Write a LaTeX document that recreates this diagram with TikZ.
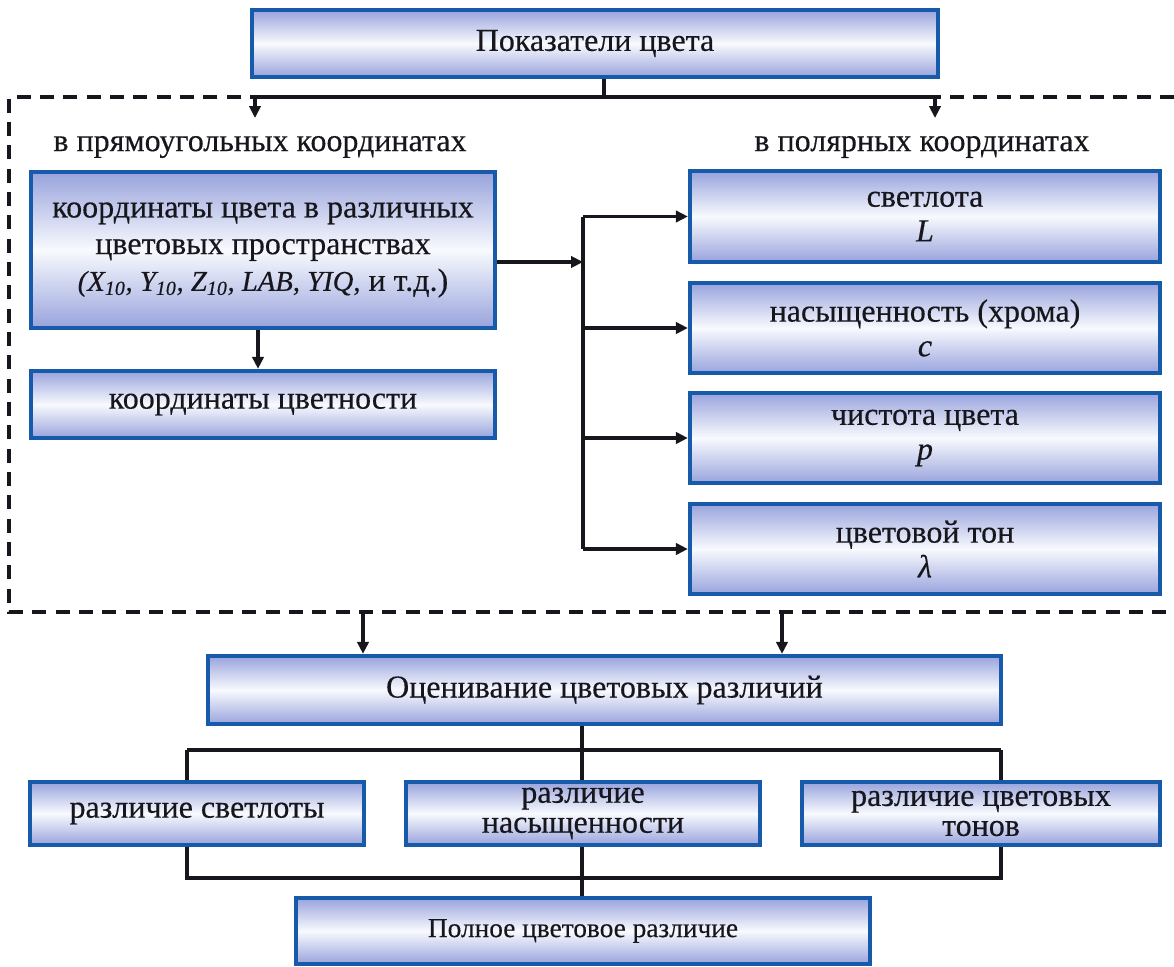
\documentclass[tikz,border=0pt]{standalone}
\usepackage{fontspec}
\setmainfont{Liberation Serif}[FakeBold=0.35]
\usetikzlibrary{arrows.meta,calc}
\definecolor{bordblue}{RGB}{24,90,170}
\definecolor{shadeblue}{RGB}{152,163,220}
\definecolor{shadewhite}{RGB}{248,250,254}
\definecolor{inkblack}{RGB}{22,22,28}
\newcommand\fsMain{\fontsize{24}{27.5}\selectfont}
\newcommand\fsRight{\fontsize{24}{26}\selectfont}
\newcommand\fsTwo{\fontsize{24}{22.5}\selectfont}
\newcommand\fsItal{\fontsize{21.5}{27.5}\selectfont}
\newcommand\fsSmall{\fontsize{20.5}{24}\selectfont}
\begin{document}
\begin{tikzpicture}[x=0.75pt,y=-0.75pt,
  box/.style={draw=bordblue, line width=3.2pt, top color=shadeblue, bottom color=shadeblue, middle color=shadewhite, inner sep=0pt, align=center, text=inkblack},
  lbl/.style={text=inkblack, inner sep=0pt},
  conn/.style={line width=2.6pt, draw=inkblack},
  arr/.style={conn, -{Triangle[length=9pt,width=8.5pt]}},
  frame/.style={line width=2.6pt, draw=inkblack, dash pattern=on 10.5pt off 7pt}
]
\useasboundingbox (0,0) rectangle (1174,967);

% dashed frame
\draw[frame] (1174,97) -- (9,97) -- (9,612) -- (1174,612);

% top box
\node[box, minimum width=514.5pt, minimum height=50.25pt, font=\fsMain] (top) at (595,43.5) {Показатели цвета};
\coordinate (split) at (604,97);
\coordinate (tl) at (255,97);
\coordinate (tr) at (935,97);
\coordinate (tlend) at (255,118);
\coordinate (trend) at (935,118);
\draw[conn] (top.south -| split) -- (split);
\draw[conn] (tl) -- (tr);
\draw[arr] (tl) -- (tlend);
\draw[arr] (tr) -- (trend);

% labels
\node[lbl, font=\fsMain] (lrect) at (260,147) {в прямоугольных координатах};
\node[lbl, font=\fsMain] (lpol) at (922,147) {в полярных координатах};

% left column
\node[box, minimum width=348pt, minimum height=117pt, font=\fsMain] (L1) at (263,250)
  {координаты цвета в различных\\цветовых пространствах\\{\fsItal\itshape(X\textsubscript{10},~Y\textsubscript{10},~Z\textsubscript{10},~LAB,~YIQ,}~и~т.д.)};
\node[box, minimum width=348pt, minimum height=50.25pt, font=\fsMain] (L2) at (263,404.5) {координаты цветности};
\draw[arr] ([xshift=-3.75pt]L1.south) -- ([xshift=-3.75pt]L2.north);

% right column
\node[box, minimum width=352.5pt, minimum height=68pt, font=\fsRight] (R1) at (925,216.5) {светлота\\\itshape L};
\node[box, minimum width=352.5pt, minimum height=68pt, font=\fsRight] (R2) at (925,328) {насыщенность (хрома)\\\itshape c};
\node[box, minimum width=352.5pt, minimum height=68pt, font=\fsRight] (R3) at (925,438) {чистота цвета\\\itshape p};
\node[box, minimum width=352.5pt, minimum height=68pt, font=\fsRight] (R4) at (925,549) {цветовой тон\\\itshape λ};

\coordinate (bus) at (583,0);
\draw[arr] ([yshift=-9pt]L1.east) -- ([yshift=-9pt]L1.east -| bus);
\draw[conn] (R1.west -| bus) -- (R4.west -| bus);
\foreach \r in {R1,R2,R3,R4} \draw[arr] (\r.west -| bus) -- (\r.west);

% evaluation
\node[box, minimum width=594.75pt, minimum height=51pt, font=\fsMain] (E) at (604.5,690) {Оценивание цветовых различий};
\coordinate (d1) at (363,612);
\coordinate (d2) at (782,612);
\draw[arr] (d1) -- (d1 |- E.north);
\draw[arr] (d2) -- (d2 |- E.north);

% differences
\node[box, minimum width=250.5pt, minimum height=47.25pt, font=\fsMain] (B1) at (197,813.5) {различие светлоты};
\node[box, minimum width=265.5pt, minimum height=47.25pt, font=\fsTwo] (B2) at (583,813.5) {различие\\насыщенности};
\node[box, minimum width=268.5pt, minimum height=47.25pt, font=\fsTwo] (B3) at (981,813.5) {различие цветовых\\тонов};

\coordinate (hub) at (582,750);
\coordinate (h1) at (187,750);
\coordinate (h3) at (1001,750);
\draw[conn] (E.south -| hub) -- (hub);
\draw[conn] (h1) -- (h3);
\draw[conn] (h1) -- (h1 |- B1.north);
\draw[conn] (hub) -- (hub |- B2.north);
\draw[conn] (h3) -- (h3 |- B3.north);

% total
\node[box, minimum width=430.5pt, minimum height=49.5pt, font=\fsSmall] (F) at (583,931) {Полное цветовое различие};
\coordinate (g1) at (187,878);
\coordinate (g2) at (582,878);
\coordinate (g3) at (1001,878);
\draw[conn] (g1 |- B1.south) -- (g1) -- (g3) -- (g3 |- B3.south);
\draw[conn] (g2 |- B2.south) -- (g2 |- F.north);
\end{tikzpicture}
\end{document}
